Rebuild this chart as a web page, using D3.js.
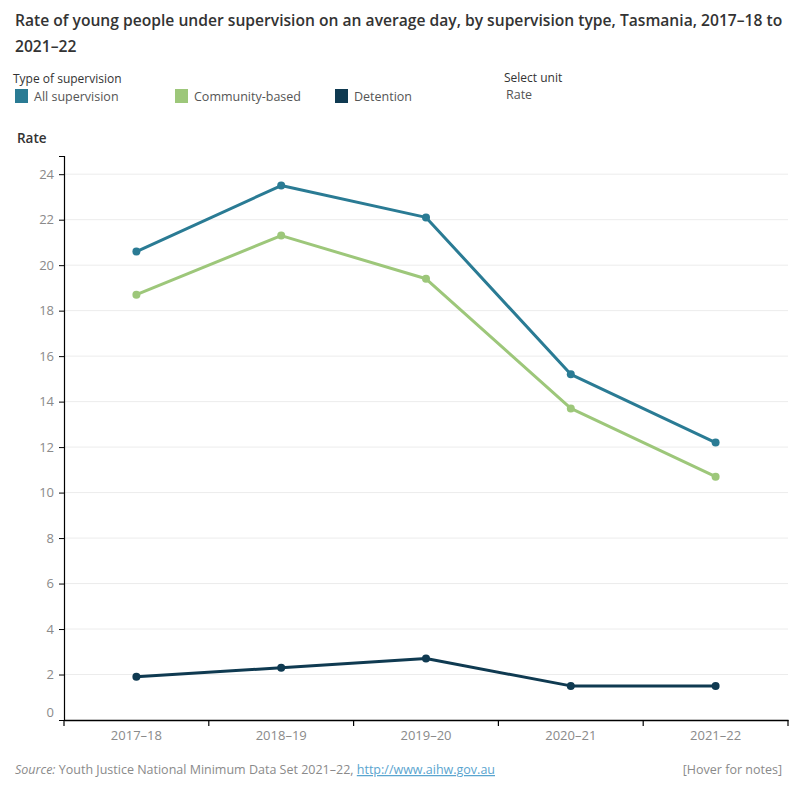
<!DOCTYPE html>
<html><head><meta charset="utf-8">
<script src="https://cdn.jsdelivr.net/npm/d3@7"></script>
<style>
body{margin:0;background:#fff;}
text{font-family:"Open Sans","Noto Sans",sans-serif;}
</style></head>
<body><svg id="c" width="800" height="800"></svg>
<script>
const categories = ["2017–18","2018–19","2019–20","2020–21","2021–22"];
const seriesNames = ["All supervision","Community-based","Detention"];
const allSupervision = [20.6, 23.5, 22.1, 15.2, 12.2];
const communityBased = [18.7, 21.3, 19.4, 13.7, 10.7];
const detention = [1.9, 2.3, 2.7, 1.5, 1.5];
const yTicks = [0,2,4,6,8,10,12,14,16,18,20,22,24];
const colors = ["#2a7b94","#9dc77a","#0f3a51"];

const series = [allSupervision, communityBased, detention];
const svg = d3.select("#c");

// Title (sized to fit 770px)
const t1 = svg.append("text").attr("x",15).attr("y",26).attr("font-size",17).attr("font-weight",600).attr("fill","#333")
  .text("Rate of young people under supervision on an average day, by supervision type, Tasmania, 2017–18 to");
const w1 = t1.node().getComputedTextLength();
if (w1 > 768) t1.attr("font-size", 17*768/w1);
const fs = +t1.attr("font-size");
svg.append("text").attr("x",15).attr("y",52).attr("font-size",fs).attr("font-weight",600).attr("fill","#333").text("2021–22");

// Legend
svg.append("text").attr("x",13).attr("y",83).attr("font-size",12).attr("fill","#333").text("Type of supervision");
const lx = [15,175,335];
seriesNames.forEach((n,i)=>{
  svg.append("rect").attr("x",lx[i]).attr("y",89).attr("width",13).attr("height",14).attr("fill",colors[i]);
  svg.append("text").attr("x",lx[i]+19).attr("y",101).attr("font-size",12.5).attr("fill","#555").text(n);
});
svg.append("text").attr("x",504).attr("y",82).attr("font-size",12).attr("fill","#333").text("Select unit");
svg.append("text").attr("x",506).attr("y",99).attr("font-size",12.5).attr("fill","#555").text("Rate");

// Axis title
svg.append("text").attr("x",17).attr("y",143).attr("font-size",13.5).attr("font-weight",600).attr("fill","#333").text("Rate");

const x = d3.scaleBand().domain(categories).range([64,788]);
const y = d3.scaleLinear().domain([0,24.8]).range([720,156]);

// gridlines
svg.append("g").selectAll("line").data(yTicks.filter(d=>d>0)).join("line")
  .attr("x1",65).attr("x2",788).attr("y1",d=>y(d)).attr("y2",d=>y(d))
  .attr("stroke","#ececec").attr("stroke-width",1);

// y axis
const ya = svg.append("g").attr("transform","translate(64,0)")
  .call(d3.axisLeft(y).tickValues(yTicks).tickSize(5).tickFormat(d3.format("d")));
ya.select(".domain").attr("stroke","#000").attr("stroke-width",1.2);
ya.selectAll(".tick line").attr("stroke","#000");
ya.selectAll(".tick text").attr("font-size",13).attr("fill","#8a8a8a").attr("font-family","Open Sans, sans-serif").attr("dx",-2);
ya.selectAll(".tick").filter(d=>d===0).select("text").attr("dy","-0.3em");

// x axis
const xa = svg.append("g").attr("transform","translate(0,720)")
  .call(d3.axisBottom(x).tickSize(0).tickSizeOuter(0));
xa.select(".domain").attr("stroke","#000").attr("stroke-width",1.5);
xa.selectAll(".tick text").attr("font-size",13).attr("fill","#8a8a8a").attr("dy","1.3em").attr("font-family","Open Sans, sans-serif");
const bounds = categories.map(c=>x(c)).concat([x.range()[1]]);
xa.selectAll(".bt").data(bounds).join("line").attr("class","bt")
  .attr("x1",d=>d).attr("x2",d=>d).attr("y1",0).attr("y2",6).attr("stroke","#000").attr("stroke-width",1.2);

// lines
const line = d3.line().x((d,i)=>x(categories[i])+x.bandwidth()/2).y(d=>y(d));
series.forEach((s,k)=>{
  svg.append("path").datum(s).attr("d",line).attr("fill","none").attr("stroke",colors[k]).attr("stroke-width",3).attr("stroke-linejoin","round");
  svg.append("g").selectAll("circle").data(s).join("circle")
    .attr("cx",(d,i)=>x(categories[i])+x.bandwidth()/2).attr("cy",d=>y(d)).attr("r",4).attr("fill",colors[k]);
});

// footer
const src = svg.append("text").attr("x",15).attr("y",774).attr("font-size",12.5).attr("fill","#8a8a8a");
src.append("tspan").attr("font-style","italic").text("Source:");
src.append("tspan").text(" Youth Justice National Minimum Data Set 2021–22, ");
src.append("tspan").attr("fill","#5aa5cf").attr("text-decoration","underline").text("http://www.aihw.gov.au");
svg.append("text").attr("x",782).attr("y",774).attr("text-anchor","end").attr("font-size",12.5).attr("fill","#8a8a8a").text("[Hover for notes]");
</script></body></html>
